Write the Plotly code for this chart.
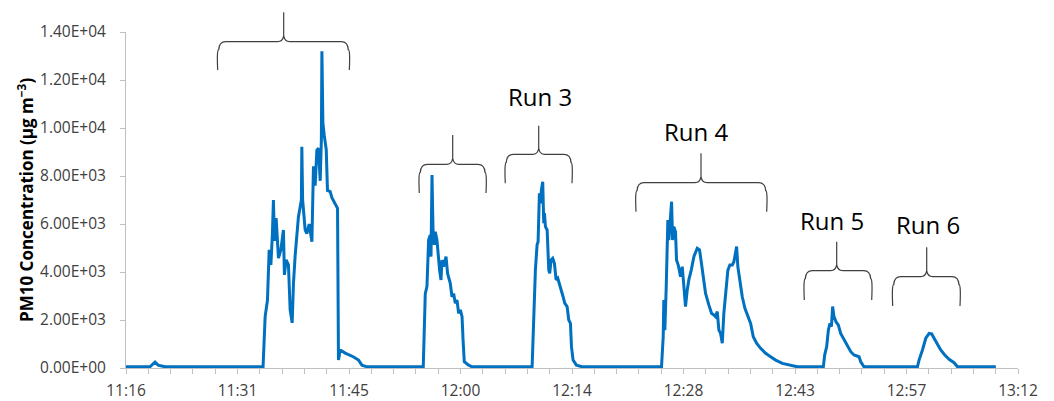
import plotly.graph_objects as go

# ---- data (time in minutes after midnight, PM10 in ug/m3) ----
time_min = [676.8, 679.9, 680.55, 680.94, 681.84, 694.5, 694.77, 695.07, 695.29, 695.51, 695.71, 695.84,
            695.97, 696.19, 696.49, 696.80, 697.13, 697.26, 697.48, 697.78, 698.00, 698.26, 698.43, 698.65,
            699.07, 699.29, 699.45, 699.51, 699.61, 699.94, 700.16, 700.46, 700.81, 701.01, 701.23, 701.45,
            701.66, 701.88, 702.03, 702.10, 702.23, 702.40, 702.66, 702.82, 703.17, 703.39, 703.82, 704.12,
            704.24, 704.46, 705.11, 706.14, 706.83, 707.27, 707.92,
            715.19, 715.45, 715.67, 715.88, 716.10, 716.19, 716.32, 716.45, 716.62, 716.74, 716.96, 717.30,
            717.48, 717.61, 717.82, 718.13, 718.33, 718.68, 718.90, 719.11, 719.33, 719.55, 719.76, 719.98,
            720.20, 720.33, 720.49, 721.05, 721.49,
            729.25, 729.45, 729.54, 729.67, 729.89, 730.02, 730.19, 730.32, 730.45, 730.62, 730.75, 730.84,
            730.97, 731.19, 731.40, 731.52, 731.70, 731.91, 732.13, 732.35, 732.56, 732.81, 733.03, 733.25,
            733.46, 733.77, 733.98, 734.20, 734.33, 734.54, 734.97, 735.71,
            745.96, 746.18, 746.26, 746.39, 746.57, 746.78, 746.91, 747.04, 747.26, 747.39, 747.55, 747.77,
            747.90, 748.12, 748.42, 748.64, 748.85, 749.06, 749.28, 749.49, 749.80, 750.14, 750.57, 750.87,
            751.09, 751.35, 751.65, 752.07, 752.42, 752.72, 752.94, 753.16, 753.37, 753.59, 753.81, 754.01,
            754.32, 754.53, 754.79, 755.10, 755.31, 755.44, 755.66, 755.82, 756.08, 756.39, 756.73, 757.12,
            757.47, 757.81, 758.24, 758.76, 759.41, 760.05, 760.70, 761.57, 762.64, 763.50,
            766.86, 767.03, 767.29, 767.51, 767.72, 767.90, 768.06, 768.23, 768.49, 768.80, 769.10, 769.53,
            769.97, 770.40, 770.82, 771.47, 771.69, 772.11,
            779.01, 779.22, 779.66, 780.09, 780.52, 780.86, 781.16, 781.60, 782.02, 782.54, 783.10, 783.75,
            784.18, 789.14]

pm10 = [50, 50, 250, 120, 50, 50, 2140, 2830, 4920, 4290, 5600, 7000,
        5300, 6250, 4580, 4920, 5750, 3880, 4500, 4300, 2420, 1880, 3540, 4700,
        6300, 6720, 7000, 9220, 7000, 5750, 5600, 6000, 5260, 8400, 7600, 9080,
        9150, 7800, 9500, 13200, 10200, 9700, 9100, 7400, 7350, 7100, 6850, 6650,
        330, 750, 620, 470, 330, 120, 50,
        50, 3100, 3400, 5330, 5540, 4640, 8040, 5750, 5130, 5680, 5330, 4080,
        3670, 4500, 4220, 4640, 3940, 3530, 2970, 3100, 2700, 2830, 2280, 2420,
        2140, 1170, 260, 120, 50,
        50, 2000, 2280, 4080, 5130, 5260, 7280, 6860, 7420, 7760, 6030, 6450,
        5890, 5750, 4080, 3940, 4500, 4570, 4360, 3670, 3740, 3460, 3320, 2970,
        2700, 2560, 2000, 1860, 890, 330, 120, 50,
        50, 1300, 2830, 1580, 3390, 6170, 5330, 6030, 6930, 5330, 5890, 5680,
        4500, 4290, 3800, 4220, 3390, 2560, 3250, 3670, 4080, 4640, 4990, 4920,
        4430, 3800, 3110, 2630, 2280, 2210, 2140, 2350, 1580, 1440, 1030, 2280,
        3250, 4080, 4290, 4290, 4430, 4640, 5060, 4220, 3670, 2970, 2490, 2140,
        1860, 1300, 1030, 820, 610, 470, 330, 190, 100, 50,
        50, 540, 890, 1580, 1860, 1720, 2560, 2140, 1930, 1790, 1440, 1170,
        960, 680, 540, 470, 260, 50,
        50, 330, 750, 1240, 1440, 1420, 1240, 960, 750, 540, 360, 220,
        50, 50]

x_tick_vals = [676.8, 691.2, 705.6, 720.0, 734.4, 748.8, 763.2, 777.6, 792.0]
x_tick_text = ["11:16", "11:31", "11:45", "12:00", "12:14", "12:28", "12:43", "12:57", "13:12"]
y_tick_vals = [0, 2000, 4000, 6000, 8000, 10000, 12000, 14000]
y_tick_text = ["0.00E+00", "2.00E+03", "4.00E+03", "6.00E+03", "8.00E+03", "1.00E+04", "1.20E+04", "1.40E+04"]
run_labels = ["Run 3", "Run 4", "Run 5", "Run 6"]

# ---- layout geometry (pixels) ----
W, H = 1054, 401
L, R, T, B = 126, 1018, 32, 368


def px(x):
    return (x - L) / (R - L)


def py(y):
    return (B - y) / (B - T)


def brace(xl, xm, xr, yb, yh, yt, r=8, r2=6):
    def P(x, y):
        return f"{px(x):.5f},{py(y):.5f}"
    d = (f"M{P(xl, yb)} Q{P(xl - 1, yh + r)} {P(xl + 1, yh + r)} "
         f"Q{P(xl + 1.5, yh)} {P(xl + r, yh)} L{P(xm - r2, yh)} "
         f"Q{P(xm - 1, yh)} {P(xm, yh - r2)} L{P(xm, yt)} L{P(xm, yh - r2)} "
         f"Q{P(xm + 1, yh)} {P(xm + r2, yh)} L{P(xr - r, yh)} "
         f"Q{P(xr - 1.5, yh)} {P(xr - 1, yh + r)} Q{P(xr + 1, yh + r)} {P(xr, yb)}")
    return d


braces = [
    (217.7, 283.7, 349.3, 70, 41.7, 12.3),
    (419.3, 452.7, 486, 193, 164.3, 135),
    (505.3, 538.7, 572, 183.3, 154.3, 125.7),
    (636, 701, 766.7, 211.7, 182.7, 153.3),
    (804.3, 836.7, 871.7, 300, 270.7, 241.7),
    (892.7, 926.7, 960, 306, 276.7, 247.3),
]
label_pos = [(540, 96.7), (696, 131.5), (832, 220.7), (928, 224)]

fig = go.Figure()
fig.add_trace(go.Scatter(x=time_min, y=pm10, mode="lines",
                         line=dict(color="#0070C0", width=3), hoverinfo="skip"))

shapes = [dict(type="path", xref="paper", yref="paper", path=brace(*b),
               line=dict(color="#404040", width=1.2)) for b in braces]

annotations = []
for txt, (x, y) in zip(run_labels, label_pos):
    annotations.append(dict(x=px(x), y=py(y), xref="paper", yref="paper", text=txt,
                            showarrow=False, xanchor="center", yanchor="middle",
                            font=dict(family="Open Sans", size=24, color="#000000")))
annotations.append(dict(x=px(25), y=py(200), xref="paper", yref="paper",
                        text="<b>PM10 Concentration (µg m<sup>−3</sup>)</b>", textangle=-90,
                        showarrow=False, xanchor="center", yanchor="middle",
                        font=dict(family="Open Sans", size=17, color="#000000")))

fig.update_layout(
    template="none",
    width=W, height=H,
    margin=dict(l=L, r=W - R, t=T, b=H - B, pad=0, autoexpand=False),
    paper_bgcolor="white", plot_bgcolor="white",
    showlegend=False,
    shapes=shapes, annotations=annotations,
    font=dict(family="Open Sans", size=15, color="#404040"),
)
fig.update_xaxes(range=[676.8, 792.0], tickvals=x_tick_vals, ticktext=x_tick_text, automargin=False,
                 ticks="outside", ticklen=5, tickcolor="#BFBFBF", showgrid=False, zeroline=False,
                 showline=True, linecolor="#BFBFBF", linewidth=1, ticklabelstandoff=3,
                 minor=dict(ticks="outside", ticklen=5, tickcolor="#BFBFBF", dtick=2.88, tick0=676.8,
                            showgrid=False),
                 tickfont=dict(family="Open Sans", size=15.5, color="#404040"))
fig.update_yaxes(range=[0, 14000], tickvals=y_tick_vals, ticktext=y_tick_text, automargin=False,
                 ticks="outside", ticklen=5, tickcolor="#BFBFBF", showgrid=False, zeroline=False,
                 showline=True, linecolor="#BFBFBF", linewidth=1, ticklabelstandoff=11,
                 tickfont=dict(family="Open Sans", size=15.5, color="#404040"))

fig.write_html("out.html", config={"displayModeBar": False},
               post_script="document.body.style.margin='0';document.body.style.padding='0';"
                           "document.body.style.overflow='hidden';")
